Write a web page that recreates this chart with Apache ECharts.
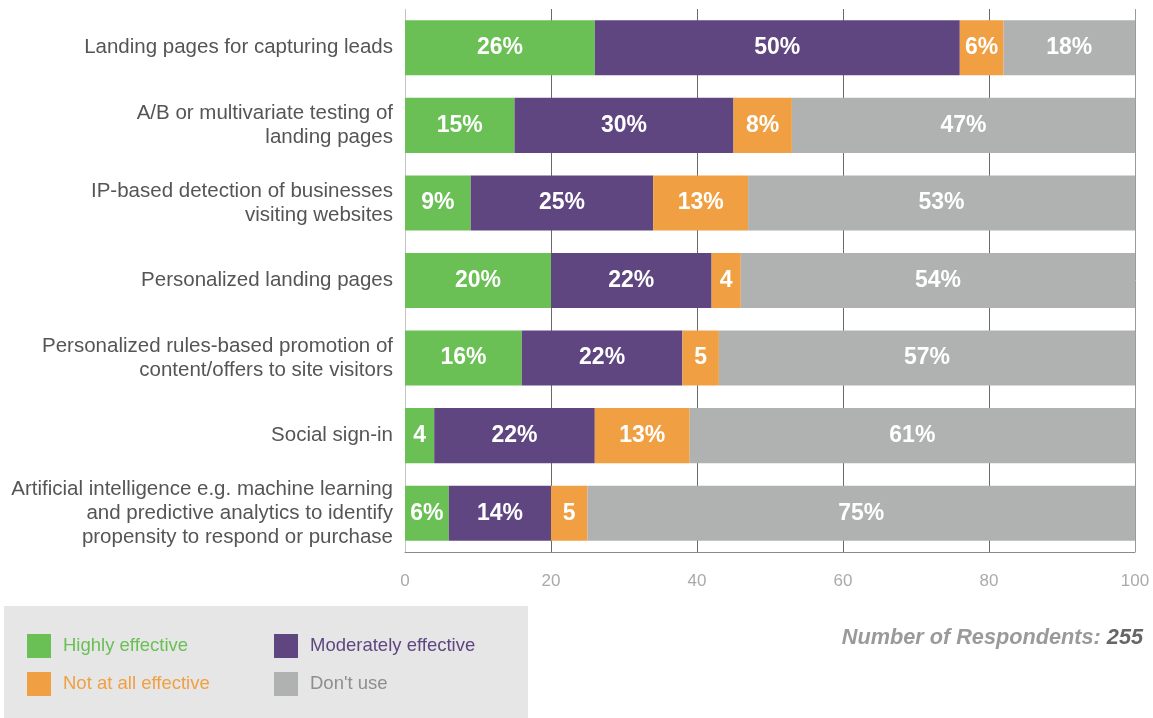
<!DOCTYPE html>
<html>
<head>
<meta charset="utf-8">
<script src="https://cdn.jsdelivr.net/npm/echarts@6/dist/echarts.min.js"></script>
<style>
  html, body { margin: 0; padding: 0; background: #fff; }
  #chart { width: 1153px; height: 718px; }
</style>
</head>
<body>
<div id="chart"></div>
<script>
// 分类
const categories = [
  'Landing pages for capturing leads',
  'A/B or multivariate testing of\nlanding pages',
  'IP-based detection of businesses\nvisiting websites',
  'Personalized landing pages',
  'Personalized rules-based promotion of\ncontent/offers to site visitors',
  'Social sign-in',
  'Artificial intelligence e.g. machine learning\nand predictive analytics to identify\npropensity to respond or purchase'
];
const highly = [26, 15, 9, 20, 16, 4, 6];
const moderately = [50, 30, 25, 22, 22, 22, 14];
const notAtAll = [6, 8, 13, 4, 5, 13, 5];
const dontUse = [18, 47, 53, 54, 57, 61, 75];
const xTicks = [0, 20, 40, 60, 80, 100];
const respondents = 255;

const colors = {
  'Highly effective': '#6abf55',
  'Moderately effective': '#5f4681',
  'Not at all effective': '#f0a043',
  "Don't use": '#afb2b1'
};
const legendTextColors = {
  'Highly effective': '#6abf55',
  'Moderately effective': '#5f4681',
  'Not at all effective': '#f0a043',
  "Don't use": '#8e8e8e'
};

const fontFam = '"Liberation Sans", Arial, Helvetica, sans-serif';

function makeSeries (name, data) {
  return {
    name: name,
    type: 'bar',
    stack: 'total',
    barWidth: '71%',
    data: data,
    itemStyle: { color: colors[name] },
    label: {
      show: true,
      position: 'inside',
      color: '#fff',
      fontSize: 23,
      fontWeight: 'bold',
      fontFamily: fontFam,
      // 小数值不带 %
      formatter: p => p.value < 6 ? String(p.value) : p.value + '%'
    }
  };
}

const chartInstance = echarts.init(document.getElementById('chart'));
const option = {
  animation: false,
  grid: { left: 405, right: 18, top: 9, bottom: 166 },
  xAxis: {
    type: 'value',
    min: 0,
    max: 100,
    interval: 20,
    axisLine: { show: true, lineStyle: { color: '#8a8a8a' } },
    axisTick: { show: false },
    axisLabel: {
      color: '#aaaaaa',
      fontSize: 17,
      fontFamily: fontFam,
      margin: 21,
      formatter: v => xTicks.includes(v) ? String(v) : ''
    },
    splitLine: {
      show: true,
      lineStyle: { color: ['#c4c4c4', '#6a6a6a', '#6a6a6a', '#6a6a6a', '#6a6a6a', '#9a9a9a'] }
    }
  },
  yAxis: {
    type: 'category',
    inverse: true,
    data: categories,
    axisLine: { show: false },
    axisTick: { show: false },
    axisLabel: {
      color: '#555555',
      fontSize: 20.5,
      lineHeight: 24,
      fontFamily: fontFam,
      margin: 12,
      align: 'right'
    }
  },
  legend: [
    {
      orient: 'vertical',
      left: 27,
      top: 634,
      padding: 0,
      itemWidth: 24,
      itemHeight: 24,
      itemGap: 14,
      icon: 'rect',
      selectedMode: false,
      textStyle: { fontSize: 18.5, fontFamily: fontFam, padding: [5, 0, 0, 7] },
      data: ['Highly effective', 'Not at all effective'].map(n => ({ name: n, textStyle: { color: legendTextColors[n] } }))
    },
    {
      orient: 'vertical',
      left: 274,
      top: 634,
      padding: 0,
      itemWidth: 24,
      itemHeight: 24,
      itemGap: 14,
      icon: 'rect',
      selectedMode: false,
      textStyle: { fontSize: 18.5, fontFamily: fontFam, padding: [5, 0, 0, 7] },
      data: ['Moderately effective', "Don't use"].map(n => ({ name: n, textStyle: { color: legendTextColors[n] } }))
    }
  ],
  graphic: [
    {
      type: 'rect',
      z: -10,
      shape: { x: 4, y: 606, width: 524, height: 112 },
      style: { fill: '#e5e6e5' }
    },
    {
      type: 'text',
      right: 10,
      top: 627,
      style: {
        text: '{a|Number of Respondents: }{b|' + respondents + '}',
        rich: {
          a: { fontSize: 21.7, fontStyle: 'italic', fontWeight: 'bold', fill: '#9a9a9a', fontFamily: fontFam },
          b: { fontSize: 21.7, fontStyle: 'italic', fontWeight: 'bold', fill: '#666666', fontFamily: fontFam }
        }
      }
    }
  ],
  series: [
    makeSeries('Highly effective', highly),
    makeSeries('Moderately effective', moderately),
    makeSeries('Not at all effective', notAtAll),
    makeSeries("Don't use", dontUse)
  ]
};
chartInstance.setOption(option);
</script>
</body>
</html>
